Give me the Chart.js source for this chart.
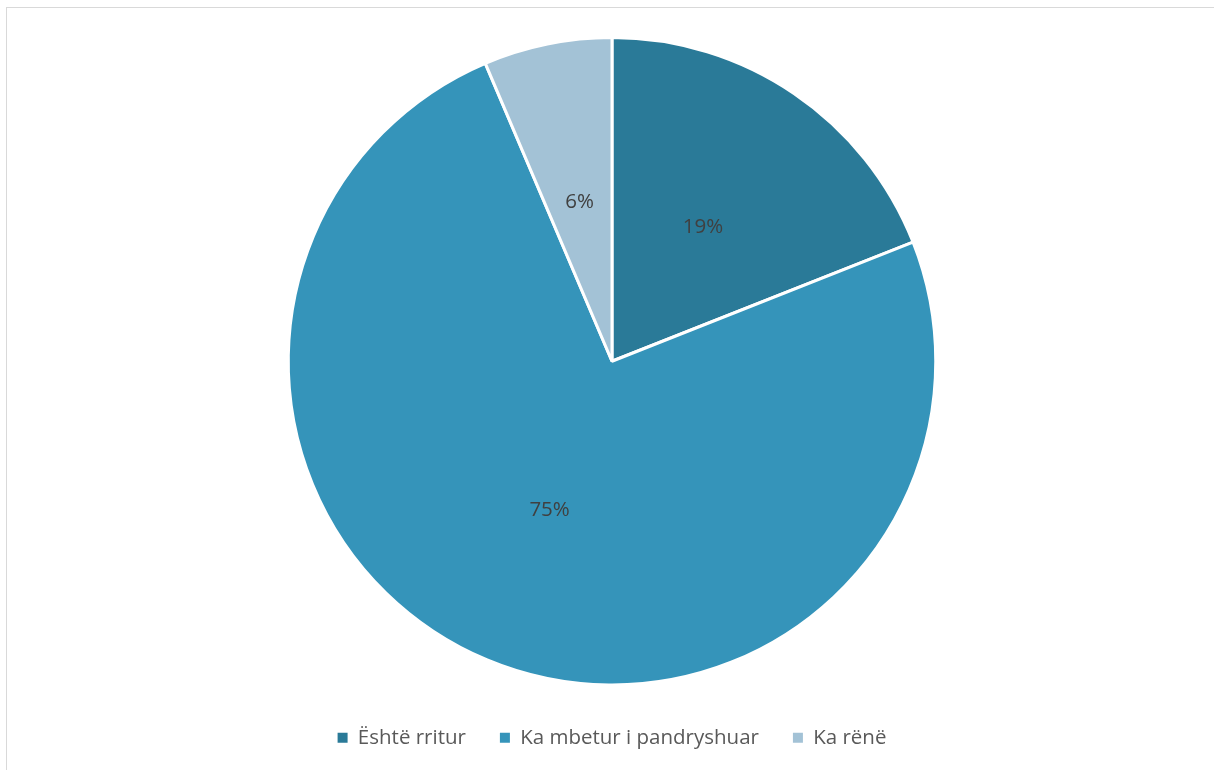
<!DOCTYPE html>
<html>
<head>
<meta charset="utf-8">
<script src="https://cdn.jsdelivr.net/npm/chart.js@4"></script>
<style>
  html, body { margin: 0; padding: 0; background: #fff; }
  #frame { position: absolute; left: 6px; top: 7px; width: 1230px; height: 790px;
           border-top: 1px solid #d9d9d9; border-left: 1px solid #d9d9d9; }
  #wrap { position: absolute; left: 0; top: 0; width: 1214px; height: 770px; }
</style>
</head>
<body>
<div id="frame"></div>
<div id="wrap"><canvas id="myPieChart"></canvas></div>
<script>
var labels = ['Është rritur', 'Ka mbetur i pandryshuar', 'Ka rënë'];
var values = [19.0, 74.6, 6.4];
var shownLabels = ['19%', '75%', '6%'];
var colors = ['#2a7a98', '#3594ba', '#a3c2d6'];

// draw the percentage labels half way out on each slice
var sliceLabels = {
    id: 'sliceLabels',
    afterLayout: function (chart) {
        // push the legend row down a little, closer to the bottom edge
        chart.legend.top += 7;
        chart.legend.bottom += 7;
    },
    afterDatasetsDraw: function (chart) {
        var ctx = chart.ctx;
        var meta = chart.getDatasetMeta(0);
        ctx.save();
        ctx.font = '20.5px "Open Sans", "Liberation Sans", sans-serif';
        ctx.fillStyle = '#404040';
        ctx.textAlign = 'center';
        ctx.textBaseline = 'middle';
        meta.data.forEach(function (arc, i) {
            var p = arc.tooltipPosition();
            ctx.fillText(shownLabels[i], p.x, p.y);
        });
        ctx.restore();
    }
};

var defaultLabels = Chart.overrides.pie.plugins.legend.labels.generateLabels;

var ctx = document.getElementById('myPieChart').getContext('2d');
var myPieChart = new Chart(ctx, {
    type: 'pie',
    data: {
        labels: labels,
        datasets: [{
            data: values,
            backgroundColor: colors,
            borderColor: '#ffffff',
            borderWidth: 3
        }]
    },
    options: {
        responsive: true,
        maintainAspectRatio: false,
        animation: false,
        layout: { padding: { top: 36, bottom: 19, left: 10, right: 0 } },
        plugins: {
            tooltip: { enabled: false },
            legend: {
                position: 'bottom',
                labels: {
                    boxWidth: 10,
                    boxHeight: 10,
                    padding: 34,
                    color: '#595959',
                    font: { size: 20.5, family: '"Open Sans", "Liberation Sans", sans-serif' },
                    generateLabels: function (chart) {
                        return defaultLabels(chart).map(function (item) {
                            item.lineWidth = 0;
                            return item;
                        });
                    }
                }
            }
        }
    },
    plugins: [sliceLabels]
});
</script>
</body>
</html>
